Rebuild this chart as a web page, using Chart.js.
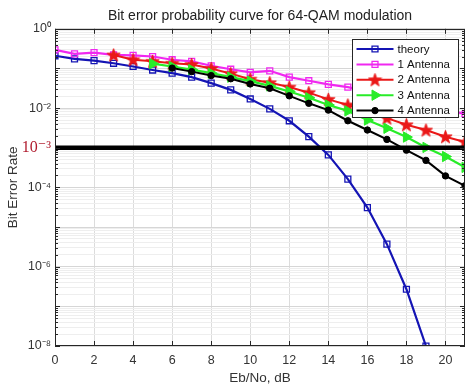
<!DOCTYPE html>
<html><head><meta charset="utf-8">
<script src="https://cdn.jsdelivr.net/npm/chart.js@4/dist/chart.umd.min.js"></script>
<style>html,body{margin:0;padding:0;background:#fff;overflow:hidden}</style>
</head><body>
<canvas id="c" width="466" height="386" style="display:block;width:466px;height:386px"></canvas>
<script>
// ---- data ----
const snr = [0,1,2,3,4,5,6,7,8,9,10,11,12,13,14,15,16,17,18,19,20,21];
const theoryBer = [0.209,0.174,0.158,0.135,0.112,0.0912,0.0759,0.0603,0.0427,0.0288,0.0170,0.00955,0.00479,0.00191,6.6e-4,1.62e-4,3.1e-5,3.7e-6,2.7e-7,1.0e-8];
const ant1Ber = [0.295,0.234,0.251,0.219,0.214,0.200,0.166,0.151,0.117,0.0955,0.0794,0.0871,0.0603,0.049,0.0398,0.0339,0.0263,0.0209,0.0158,0.012,0.0091,0.0071];
const ant2Ber = [null,null,null,0.219,0.166,0.151,0.135,0.126,0.100,0.0741,0.0537,0.0437,0.0339,0.0245,0.0166,0.012,0.0081,0.0056,0.0038,0.0028,0.0019,0.0014];
const ant3Ber = [null,null,null,null,null,0.132,0.112,0.0933,0.0759,0.0603,0.0479,0.0363,0.0263,0.0182,0.012,0.0085,0.005,0.0031,0.00186,0.00102,0.0006,0.00032];
const ant4Ber = [null,null,null,null,null,null,0.102,0.0832,0.0661,0.055,0.0407,0.0316,0.0204,0.0132,0.0089,0.0048,0.0028,0.00162,0.00087,0.00048,0.000195,0.00011];
const refX = [0, 21];
const refBer = [1e-3, 1e-3];
const seriesNames = ['theory','1 Antenna','2 Antenna','3 Antenna','4 Antenna'];
const xTicks = [0,2,4,6,8,10,12,14,16,18,20];
const yDecades = [-8,-7,-6,-5,-4,-3,-2,-1,0];
const titleText = 'Bit error probability curve for 64-QAM modulation';
const xTitle = 'Eb/No, dB';
const yTitle = 'Bit Error Rate';

// ---- helpers ----
const SANS = '"Liberation Sans", Arial, Helvetica, sans-serif';
const SERIF = '"Liberation Serif", "DejaVu Serif", serif';
const SUP = {'-':'\u207B','0':'\u2070','1':'\u00B9','2':'\u00B2','3':'\u00B3','4':'\u2074','5':'\u2075','6':'\u2076','7':'\u2077','8':'\u2078','9':'\u2079'};
const sup = n => String(n).split('').map(c => SUP[c]).join('');
const pts = arr => arr.map((v,i) => v == null ? null : {x: snr[i], y: v}).filter(p => p);
const decOf = v => { const e = Math.log10(v); const r = Math.round(e); return Math.abs(e - r) < 1e-6 ? r : null; };
const yTickValues = [];
yDecades.forEach(d => { yTickValues.push(Math.pow(10, d)); if (d < 0) for (let k = 2; k <= 9; k++) yTickValues.push(k * Math.pow(10, d)); });
yTickValues.sort((a,b) => a - b);
const isRef = v => decOf(v) === -3;

const BLUE = '#1414b4', MAG = '#f028f0', RED = '#ea1818', GREEN = '#28ec28', BLACK = '#000000';

function makeStar(color) {
  const c = document.createElement('canvas'); c.width = 15; c.height = 15;
  const g = c.getContext('2d'); const cx = 7.5, cy = 8, R = 7, r = 2.9;
  g.beginPath();
  for (let i = 0; i < 10; i++) {
    const a = -Math.PI/2 + i * Math.PI / 5; const rr = i % 2 ? r : R;
    g.lineTo(cx + rr * Math.cos(a), cy + rr * Math.sin(a));
  }
  g.closePath(); g.fillStyle = color; g.fill(); g.strokeStyle = color; g.lineWidth = 0.8; g.stroke();
  return c;
}
const starImg = makeStar(RED);

const datasets = [
  {label: seriesNames[0], data: pts(theoryBer), borderColor: BLUE, borderWidth: 2.2, pointStyle: 'rect', pointRadius: 4.2, pointBorderWidth: 1.3, pointBorderColor: BLUE, pointBackgroundColor: 'rgba(0,0,0,0)', order: 5},
  {label: seriesNames[1], data: pts(ant1Ber), borderColor: MAG, borderWidth: 2.2, pointStyle: 'rect', pointRadius: 4.2, pointBorderWidth: 1.3, pointBorderColor: MAG, pointBackgroundColor: 'rgba(0,0,0,0)', order: 4},
  {label: seriesNames[2], data: pts(ant2Ber), borderColor: RED, borderWidth: 2, pointStyle: starImg, pointRadius: 6, pointBorderWidth: 1, pointBorderColor: RED, pointBackgroundColor: RED, order: 3},
  {label: seriesNames[3], data: pts(ant3Ber), borderColor: GREEN, borderWidth: 2.2, pointStyle: 'triangle', pointRotation: 90, pointRadius: 6, pointBorderWidth: 1, pointBorderColor: GREEN, pointBackgroundColor: GREEN, order: 2},
  {label: seriesNames[4], data: pts(ant4Ber), borderColor: BLACK, borderWidth: 2, pointStyle: 'circle', pointRadius: 3.2, pointBorderWidth: 1, pointBorderColor: BLACK, pointBackgroundColor: BLACK, order: 1},
  {label: 'ref', data: refX.map((x,i) => ({x, y: refBer[i]})), borderColor: '#000', borderWidth: 4.5, pointRadius: 0, order: 0}
];

function drawPt(ctx, opts, x, y) {
  if (Chart.helpers && Chart.helpers.drawPoint) { Chart.helpers.drawPoint(ctx, opts, x, y); return; }
}

const framePlugin = {
  id: 'frameLegend',
  afterDraw(chart) {
    const ctx = chart.ctx, a = chart.chartArea;
    const xs = chart.scales.x, ys = chart.scales.y;
    ctx.save();
    ctx.strokeStyle = '#262626'; ctx.lineWidth = 1;
    ctx.beginPath();
    xTicks.forEach(v => {
      const px = Math.round(xs.getPixelForValue(v)) + 0.5;
      ctx.moveTo(px, a.bottom); ctx.lineTo(px, a.bottom - 5);
      ctx.moveTo(px, a.top); ctx.lineTo(px, a.top + 5);
    });
    yTickValues.forEach(v => {
      const py = Math.round(ys.getPixelForValue(v)) + 0.5;
      const len = decOf(v) === null ? 3 : 5;
      ctx.moveTo(a.left, py); ctx.lineTo(a.left + len, py);
      ctx.moveTo(a.right, py); ctx.lineTo(a.right - len, py);
    });
    ctx.stroke();
    ctx.strokeRect(Math.round(a.left) + 0.5, Math.round(a.top) + 0.5, Math.round(a.right - a.left) - 1, Math.round(a.bottom - a.top) - 1);
    const lx = 352.5, ly = 39.5, lw = 106, lh = 78;
    ctx.fillStyle = '#fff'; ctx.fillRect(lx, ly, lw, lh);
    ctx.strokeStyle = '#262626'; ctx.lineWidth = 1; ctx.strokeRect(lx, ly, lw, lh);
    seriesNames.forEach((name, i) => {
      const ds = chart.data.datasets[i];
      const y = ly + 9.5 + i * 15.4;
      ctx.strokeStyle = ds.borderColor; ctx.lineWidth = 2;
      ctx.beginPath(); ctx.moveTo(lx + 4, y); ctx.lineTo(lx + 41, y); ctx.stroke();
      ctx.fillStyle = ds.pointBackgroundColor; ctx.strokeStyle = ds.pointBorderColor; ctx.lineWidth = ds.pointBorderWidth;
      drawPt(ctx, {pointStyle: ds.pointStyle, radius: ds.pointRadius, rotation: ds.pointRotation || 0, borderWidth: ds.pointBorderWidth}, lx + 22.5, y);
      ctx.fillStyle = '#111'; ctx.font = '11.5px ' + SANS; ctx.textBaseline = 'middle'; ctx.textAlign = 'left';
      ctx.fillText(name, lx + 45, y + 0.5);
    });
    ctx.restore();
  }
};

new Chart(document.getElementById('c'), {
  type: 'line',
  data: {datasets},
  plugins: [framePlugin],
  options: {
    responsive: false, animation: false, events: [], devicePixelRatio: 1,
    layout: {autoPadding: false, padding: {left: 0, right: 1, top: 0, bottom: 0}},
    elements: {line: {tension: 0, fill: false}},
    plugins: {
      legend: {display: false}, tooltip: {enabled: false},
      title: {display: true, text: titleText, fullSize: false, color: '#222', font: {family: SANS, size: 14, weight: 'normal'}, padding: {top: 8, bottom: 4}}
    },
    scales: {
      x: {
        type: 'linear', min: 0, max: 21,
        afterBuildTicks: s => { s.ticks = xTicks.map(v => ({value: v})); },
        afterFit: s => { s.height = 40; s.paddingLeft = 0; s.paddingRight = 0; },
        ticks: {autoSkip: false, maxRotation: 0, padding: 7, color: '#333', font: {family: SANS, size: 12.5}},
        grid: {color: '#dcdcdc', drawTicks: false, lineWidth: 1},
        border: {display: false},
        title: {display: true, text: xTitle, color: '#333', font: {family: SANS, size: 13.5}, padding: {top: 0, bottom: 0}}
      },
      y: {
        type: 'logarithmic', min: 1e-8, max: 1,
        afterBuildTicks: s => { s.ticks = yTickValues.map(v => ({value: v})); },
        afterFit: s => { s.width = 55; s.paddingTop = 0; s.paddingBottom = 0; },
        ticks: {
          autoSkip: false, padding: 4,
          callback: v => { const d = decOf(v); if (d === null) return ''; if (d === -3) return '10' + sup(-3); return d % 2 === 0 ? '10' + sup(d) : ''; },
          color: c => (c.tick && isRef(c.tick.value)) ? '#b01c2e' : '#333',
          font: c => (c.tick && isRef(c.tick.value)) ? {family: SERIF, size: 16} : {family: SANS, size: 12.5}
        },
        grid: {color: c => (c.tick && decOf(c.tick.value) !== null) ? '#d6d6d6' : '#eeeeee', drawTicks: false, lineWidth: 1},
        border: {display: false},
        title: {display: true, text: yTitle, color: '#333', font: {family: SANS, size: 13.5}, padding: {top: 5, bottom: 0}}
      }
    }
  }
});
</script>
</body></html>
